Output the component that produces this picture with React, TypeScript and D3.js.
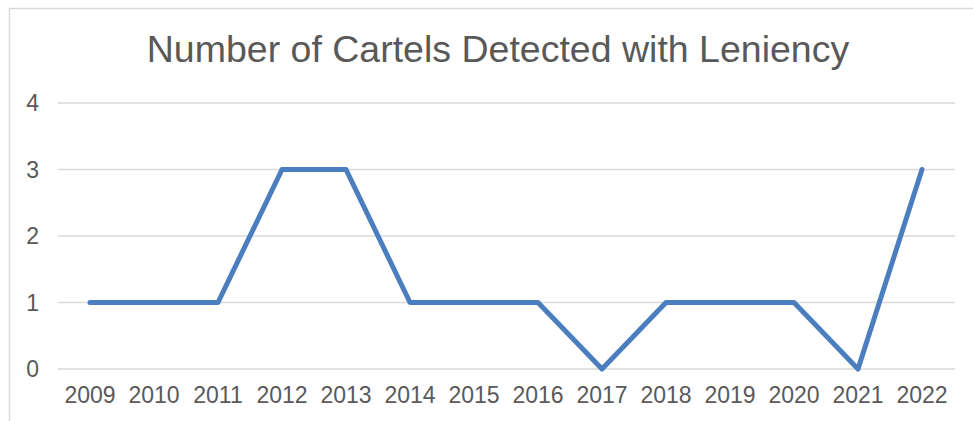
import React from "react";
import * as d3 from "d3";

const years = ["2009","2010","2011","2012","2013","2014","2015","2016","2017","2018","2019","2020","2021","2022"];
const cartels = [1,1,1,3,3,1,1,1,0,1,1,1,0,3];
const yTicks = [0,1,2,3,4];
const title = "Number of Cartels Detected with Leniency";

export default function App() {
  const W = 973, H = 421;
  const x = d3.scaleBand<string>().domain(years).range([58, 954]);
  const y = d3.scaleLinear().domain([0, 4]).range([369, 103]);
  const line = d3.line<number>()
    .x((_, i) => (x(years[i]) as number) + x.bandwidth() / 2)
    .y((d) => y(d));
  const font = "'Liberation Sans', Arial, sans-serif";
  return (
    <svg width={W} height={H} style={{ position: "absolute", left: 0, top: 0 }}>
      <rect x={0} y={0} width={W} height={H} fill="#fff" />
      <rect x={9.5} y={8.5} width={1000} height={500} fill="none" stroke="#d9d9d9" strokeWidth={1.5} />
      <text x={498} y={62} textAnchor="middle" fontFamily={font} fontSize={37.5} fill="#595959">{title}</text>
      {yTicks.map((t) => (
        <g key={t}>
          <line x1={58} x2={955} y1={y(t)} y2={y(t)} stroke="#d9d9d9" strokeWidth={1.5} />
          <text x={39} y={y(t)} dy="0.35em" textAnchor="end" fontFamily={font} fontSize={23} fill="#595959">{t}</text>
        </g>
      ))}
      {years.map((yr) => (
        <text key={yr} x={(x(yr) as number) + x.bandwidth() / 2} y={403} textAnchor="middle" fontFamily={font} fontSize={23} fill="#595959">{yr}</text>
      ))}
      <path d={line(cartels) || ""} fill="none" stroke="#4a7ebf" strokeWidth={5} strokeLinejoin="round" strokeLinecap="round" />
    </svg>
  );
}
